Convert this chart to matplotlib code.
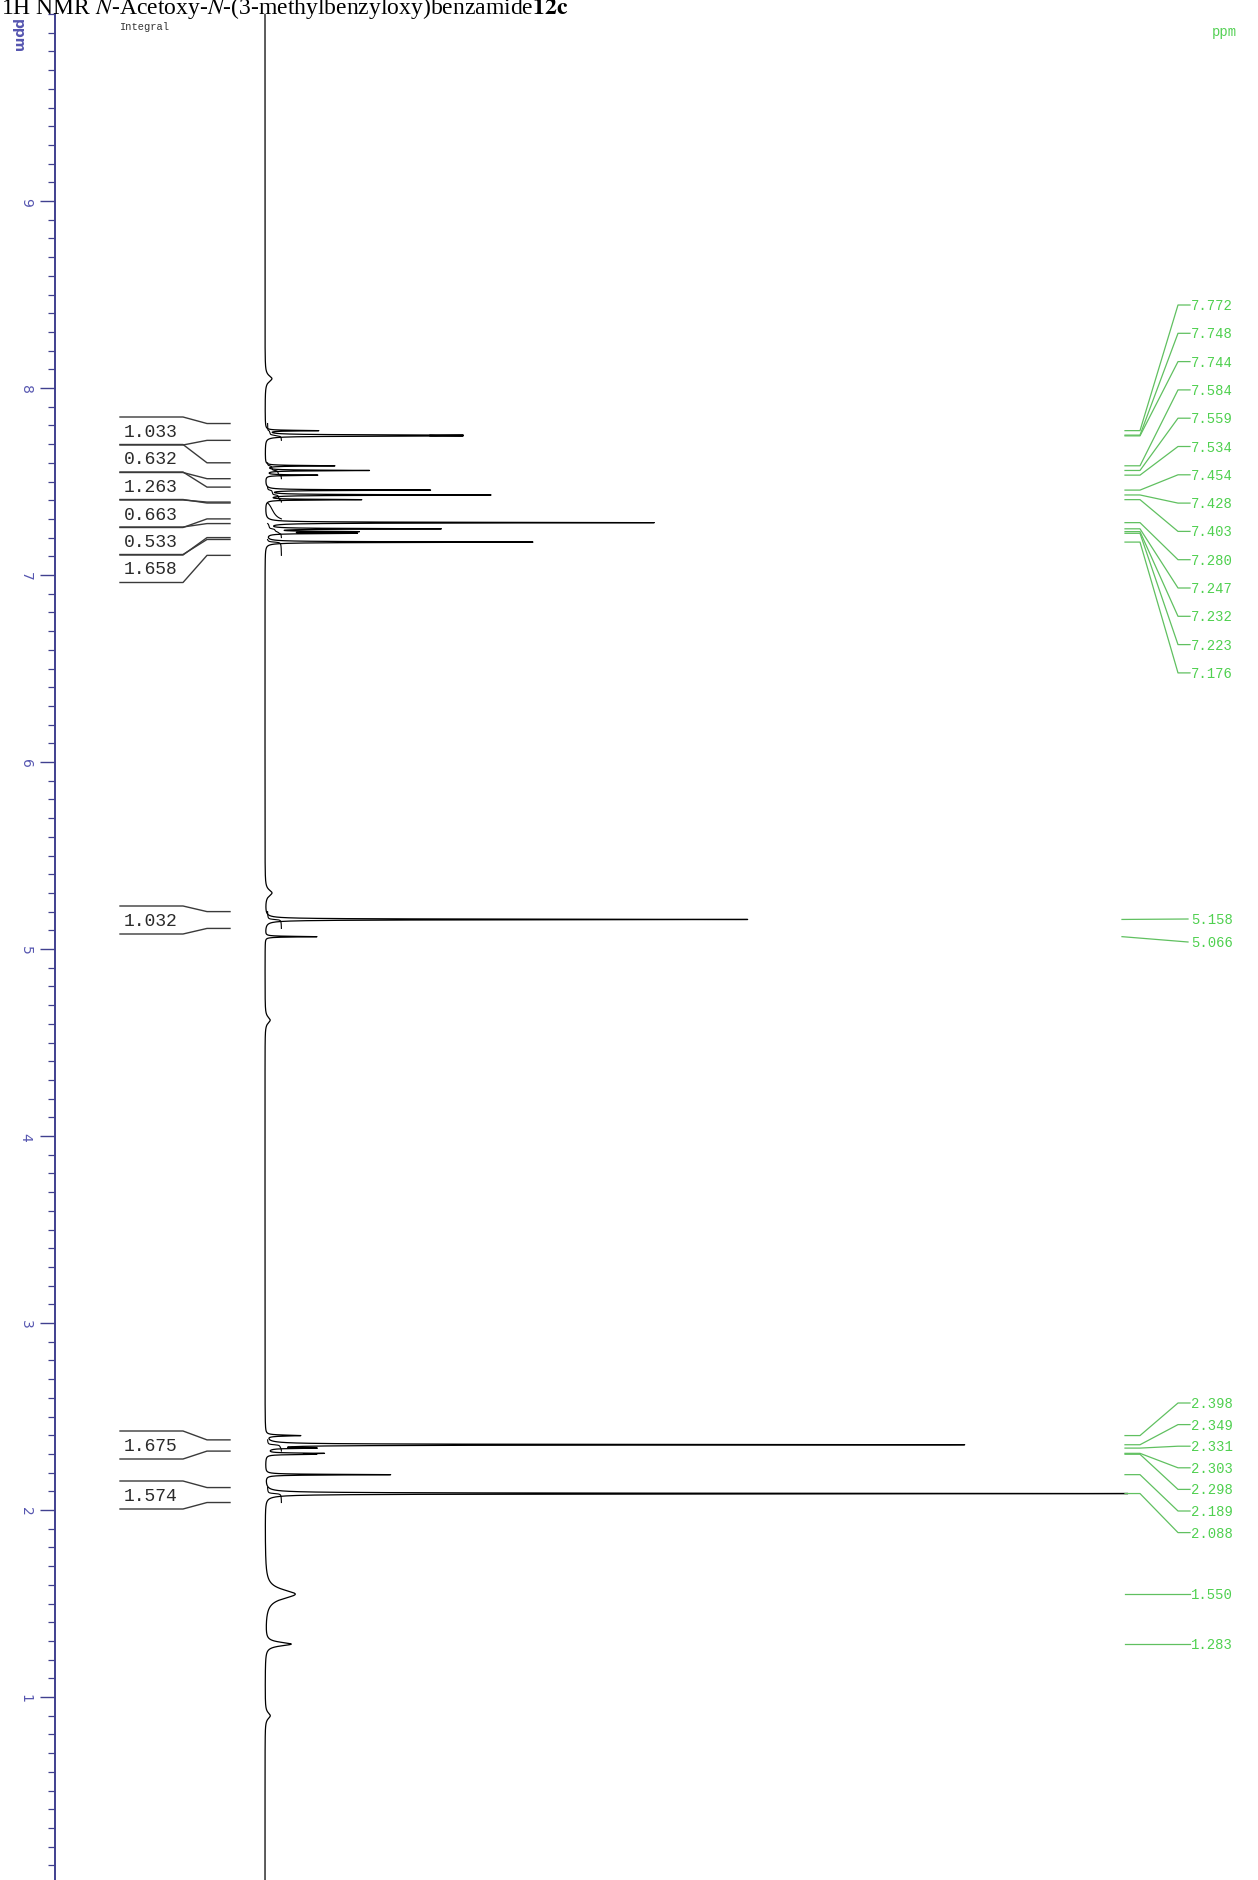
import numpy as np
import matplotlib
matplotlib.use("Agg")
import matplotlib.pyplot as plt
from matplotlib.ticker import FixedLocator, MultipleLocator

W, H, DPI = 1258, 1881, 100

# ---------------- data ----------------
peak_ppm = [8.05, 7.772, 7.748, 7.744, 7.584, 7.559, 7.534, 7.454, 7.428, 7.403,
            7.280, 7.247, 7.232, 7.223, 7.176, 5.30, 5.158, 5.066, 4.62,
            2.398, 2.349, 2.331, 2.303, 2.298, 2.189, 2.088, 1.550, 1.283, 0.90]
peak_height = [0.8, 6, 19, 19, 8, 12, 6, 19, 26, 11,
               45, 20, 10, 10, 31, 0.8, 56, 6, 0.6,
               4, 81, 5, 6, 5, 14.5, 100, 3.5, 3.0, 0.6]
peak_width = [0.02, 0.002, 0.002, 0.002, 0.002, 0.002, 0.002, 0.002, 0.002, 0.002,
              0.002, 0.002, 0.002, 0.002, 0.002, 0.02, 0.002, 0.002, 0.02,
              0.003, 0.002, 0.002, 0.002, 0.002, 0.002, 0.002, 0.03, 0.012, 0.02]

upper_labels = ["7.772", "7.748", "7.744", "7.584", "7.559", "7.534", "7.454",
                "7.428", "7.403", "7.280", "7.247", "7.232", "7.223", "7.176"]
mid_labels = ["5.158", "5.066"]
lower_labels = ["2.398", "2.349", "2.331", "2.303", "2.298", "2.189", "2.088"]
single_labels = ["1.550", "1.283"]

int_values = ["1.033", "0.632", "1.263", "0.663", "0.533", "1.658", "1.032", "1.675", "1.574"]
int_start = [7.81, 7.60, 7.47, 7.385, 7.275, 7.19, 5.20, 2.375, 2.12]
int_end = [7.72, 7.515, 7.39, 7.30, 7.20, 7.105, 5.11, 2.315, 2.04]

axis_major = [1, 2, 3, 4, 5, 6, 7, 8, 9]

# ---------------- figure ----------------
plt.rcParams["mathtext.fontset"] = "stix"
fig = plt.figure(figsize=(W / DPI, H / DPI), dpi=DPI)
fig.patch.set_facecolor("white")

ax_left_px, top_px, base_px, unit_px = 55, 15, 265, 8.63
ax = fig.add_axes([ax_left_px / W, 0, 1 - ax_left_px / W, (H - top_px) / H])
ax.set_ylim(10.0 - (H - top_px) / 187.0, 10.0)
ax.set_xlim(-(base_px - ax_left_px) / unit_px, (W - base_px) / unit_px)
ax.patch.set_alpha(0)

# spectrum
grid = np.linspace(10.0, 0.0, 60000)
spec = np.zeros_like(grid)
for p, h, g in zip(peak_ppm, peak_height, peak_width):
    spec += h * g * g / ((grid - p) ** 2 + g * g)
ax.plot(spec, grid, color="black", lw=0.9)

# integral traces
for s, e in zip(int_start, int_end):
    m = (grid <= s) & (grid >= e)
    c = np.cumsum(spec[m])
    frac = c / c[-1]
    ax.plot(0.3 + 1.6 * frac, grid[m], color="black", lw=0.8)

# ppm axis
blue = "#5656b0"
for side in ["top", "right", "bottom"]:
    ax.spines[side].set_visible(False)
ax.spines["left"].set_color("#40408f")
ax.spines["left"].set_linewidth(1.4)
ax.set_xticks([])
ax.yaxis.set_major_locator(FixedLocator(axis_major))
ax.yaxis.set_minor_locator(MultipleLocator(0.1))
ax.tick_params(axis="y", which="major", direction="out", length=11, width=1,
               color="#40408f", labelsize=10, labelcolor=blue, pad=5,
               labelrotation=-90)
ax.tick_params(axis="y", which="minor", direction="out", length=5, width=0.9,
               color="#40408f")
for lab in ax.get_yticklabels():
    lab.set_va("center")

# overlay in pixel coordinates
ov = fig.add_axes([0, 0, 1, 1], zorder=5)
ov.set_xlim(0, W)
ov.set_ylim(H, 0)
ov.axis("off")
ov.patch.set_alpha(0)


def ypx(ppm):
    return H - ax.transData.transform((0, ppm))[1]


fig.text(18 / W, 1 - 36 / H, "ppm", rotation=-90, color=blue, fontsize=10,
         ha="center", va="center", fontweight="bold")

# title (partly cut at top as in the reference)
fig.text(1 / W, 1 - 14 / H,
         r"1H NMR $\mathit{N}$-Acetoxy-$\mathit{N}$-(3-methylbenzyloxy)benzamide$\mathbf{12c}$",
         fontsize=17, family="Liberation Serif", ha="left", va="baseline")

ov.text(120, 27, "Integral", fontsize=7.5, family="Liberation Mono", color="#333333",
        va="center", ha="left")
ov.text(1212, 32, "ppm", fontsize=10, family="Liberation Mono", color="#55d055",
        va="center", ha="left")

# integral labels
gray = "#3a3a3a"
tops = [418 + 27.5 * i for i in range(6)] + [907, 1432, 1482]
for val, s, e, t in zip(int_values, int_start, int_end, tops):
    b = t + 28
    ys, ye = ypx(s), ypx(e)
    ov.plot([120, 183, 207, 230], [t, t, ys, ys], color=gray, lw=1)
    ov.plot([120, 183, 207, 230], [b, b, ye, ye], color=gray, lw=1)
    ov.text(151, t + 14.5, val, fontsize=13, family="Liberation Mono",
            color="#2a2a2a", ha="center", va="center")

# peak labels (green)
green_t, green_l = "#4fd04f", "#60c060"


def fan(labels, y0, dy):
    for i, lab in enumerate(labels):
        yl = y0 + dy * i
        yp = ypx(float(lab))
        ov.plot([1125, 1140, 1178, 1190], [yp, yp, yl, yl], color=green_l, lw=0.9)
        ov.text(1191, yl, lab, fontsize=10, family="Liberation Mono",
                color=green_t, ha="left", va="center")


fan(upper_labels, 306, 28.3)
fan(lower_labels, 1404, 21.6)
for lab, yl in zip(mid_labels, [920, 943]):
    yp = ypx(float(lab))
    ov.plot([1122, 1188], [yp, yl], color=green_l, lw=0.9)
    ov.text(1191, yl, lab, fontsize=10, family="Liberation Mono",
            color=green_t, ha="left", va="center")
for lab in single_labels:
    yp = ypx(float(lab))
    ov.plot([1125, 1190], [yp, yp], color=green_l, lw=0.9)
    ov.text(1191, yp, lab, fontsize=10, family="Liberation Mono",
            color=green_t, ha="left", va="center")

fig.savefig("out.png", dpi=DPI)
